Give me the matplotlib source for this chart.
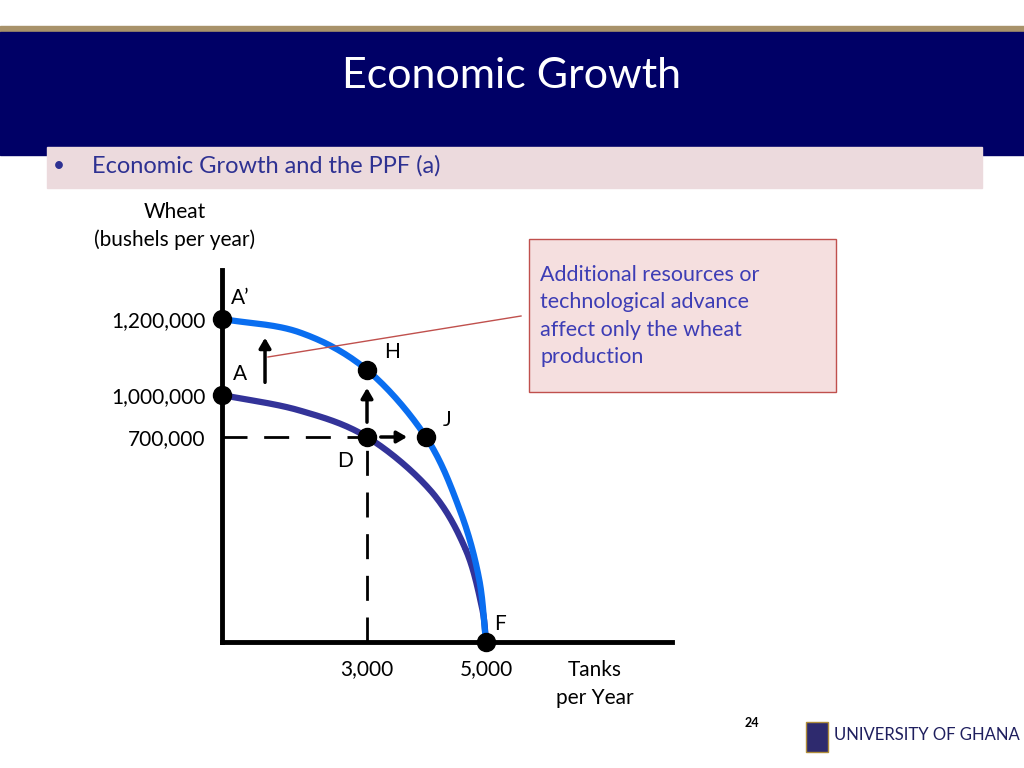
import numpy as np
import matplotlib
matplotlib.use("Agg")
import matplotlib.pyplot as plt
from matplotlib.patches import Rectangle

plt.rcParams["font.family"] = "Lato"

# ---- data ----
x_ticks = [3000, 5000]
x_tick_labels = ["3,000", "5,000"]
y_ticks = [700000, 1000000, 1200000]
y_tick_labels = ["700,000", "1,000,000", "1,200,000"]
ppf_inner_x = [0, 1600, 3000, 4060, 4650, 4930, 5000]
ppf_inner_y = [1000000, 890000, 700000, 519000, 320000, 120000, 0]
ppf_outer_x = [0, 1600, 3000, 3990, 4560, 4880, 5000]
ppf_outer_y = [1200000, 1165000, 1066000, 700000, 451000, 220000, 0]
pt_names = ["A'", "A", "H", "J", "D", "F"]
pt_x = [0, 0, 3000, 3990, 3000, 5000]
pt_y = [1200000, 1000000, 1066000, 700000, 700000, 0]

# non-proportional axis (as drawn on the slide)
XP = [0, 145, 264, 450]; XV = [0, 3000, 5000, 8500]
YP = [0, 205, 247, 323, 372]; YV = [0, 700000, 1000000, 1200000, 1350000]
fx = (lambda v: np.interp(v, XV, XP), lambda p: np.interp(p, XP, XV))
fy = (lambda v: np.interp(v, YV, YP), lambda p: np.interp(p, YP, YV))

fig = plt.figure(figsize=(10.24, 7.68), dpi=100)
W, H = 1024, 768
def fr(x, y): return x / W, 1 - y / H

# header
fig.patches.append(Rectangle(fr(0, 32), 1, 6/H, transform=fig.transFigure, color="#a8926a"))
fig.patches.append(Rectangle(fr(0, 155), 1, 123/H, transform=fig.transFigure, color="#000066"))
fig.text(*fr(512, 76), "Economic Growth", color="white", fontsize=31, ha="center", va="center")
fig.patches.append(Rectangle(fr(47, 188), 935/W, 41/H, transform=fig.transFigure, color="#ecdadd"))
fig.text(*fr(53, 166), "•", color="#2e3192", fontsize=15, ha="left", va="center")
fig.text(*fr(92, 166), "Economic Growth and the PPF (a)", color="#2e3192", fontsize=17, ha="left", va="center")

ax = fig.add_axes([222/W, 1-642/H, 450/W, 372/H])
ax.set_xscale("function", functions=fx)
ax.set_yscale("function", functions=fy)
ax.set_xlim(0, 8500); ax.set_ylim(0, 1350000)
for s in ["top", "right"]:
    ax.spines[s].set_visible(False)
for s in ["left", "bottom"]:
    ax.spines[s].set_linewidth(3.5)
ax.set_xticks(x_ticks, x_tick_labels, fontsize=15)
ax.set_yticks(y_ticks, y_tick_labels, fontsize=15)
ax.tick_params(length=0, pad=12)
ax.set_facecolor("none")

def smooth(xs, ys, n=30):
    px = fx[0](np.array(xs, float)); py = fy[0](np.array(ys, float))
    P = np.column_stack([px, py])
    P = np.vstack([2*P[0]-P[1], P, 2*P[-1]-P[-2]])
    out = []
    for i in range(1, len(P)-2):
        p0, p1, p2, p3 = P[i-1], P[i], P[i+1], P[i+2]
        t = np.linspace(0, 1, n)[:, None]
        out.append(0.5*((2*p1) + (-p0+p2)*t + (2*p0-5*p1+4*p2-p3)*t**2 + (-p0+3*p1-3*p2+p3)*t**3))
    Q = np.vstack(out)
    return fx[1](Q[:, 0]), fy[1](Q[:, 1])

ax.plot(*smooth(ppf_inner_x, ppf_inner_y), color="#333399", lw=4.5, solid_capstyle="butt")
ax.plot(*smooth(ppf_outer_x, ppf_outer_y), color="#0a6ef0", lw=4.5, solid_capstyle="butt")

ax.plot([0, 3000], [700000, 700000], color="black", lw=2, dashes=(9, 6))
ax.plot([3000, 3000], [0, 700000], color="black", lw=2, dashes=(9, 6))

ax.plot(pt_x, pt_y, "o", color="black", ms=13, clip_on=False, zorder=5)
offs = {"A'": (13, 15), "A": (13, 15), "H": (18, 13), "J": (15, 12), "D": (-16, -17), "F": (10, 13)}
for n, x, y in zip(pt_names, pt_x, pt_y):
    lab = "A’" if n == "A'" else n
    ax.annotate(lab, (x, y), xytext=offs[n], textcoords="offset points", fontsize=15, ha="center", va="center")

arrow = dict(arrowstyle="-|>,head_width=0.35,head_length=0.6", color="black", lw=2.5)
ax.annotate("", xy=(890, 1158000), xytext=(890, 1026000), arrowprops=arrow)
ax.annotate("", xy=(3000, 1026000), xytext=(3000, 786000), arrowprops=arrow)
ax.annotate("", xy=(3720, 700000), xytext=(3185, 700000), arrowprops=arrow)

fig.text(*fr(175, 226), "Wheat\n(bushels per year)", fontsize=15, ha="center", va="center", linespacing=1.5)
fig.text(*fr(595, 684), "Tanks\nper Year", fontsize=15, ha="center", va="center", linespacing=1.5)

# annotation box
fig.patches.append(Rectangle(fr(529, 392), 307/W, 153/H, transform=fig.transFigure,
                             facecolor="#f5dfdf", edgecolor="#c0504d", lw=1))
fig.text(*fr(540, 316), "Additional resources or\ntechnological advance\naffect only the wheat\nproduction",
         fontsize=15.5, color="#3d3db5", ha="left", va="center", linespacing=1.45)
fig.add_artist(plt.Line2D([521/W, 268/W], [1-316/H, 1-357/H], color="#c0504d", lw=1))

# footer
fig.text(*fr(752, 723), "24", fontsize=9, fontweight="bold", ha="center", va="center")
fig.patches.append(Rectangle(fr(806, 752), 22/W, 30/H, transform=fig.transFigure, facecolor="#2e2a6e", edgecolor="#b08d3a", lw=1))
fig.text(*fr(927, 735), "UNIVERSITY OF GHANA", fontsize=12, color="#1f1f5e", ha="center", va="center")

fig.savefig("out.png", dpi=100)
